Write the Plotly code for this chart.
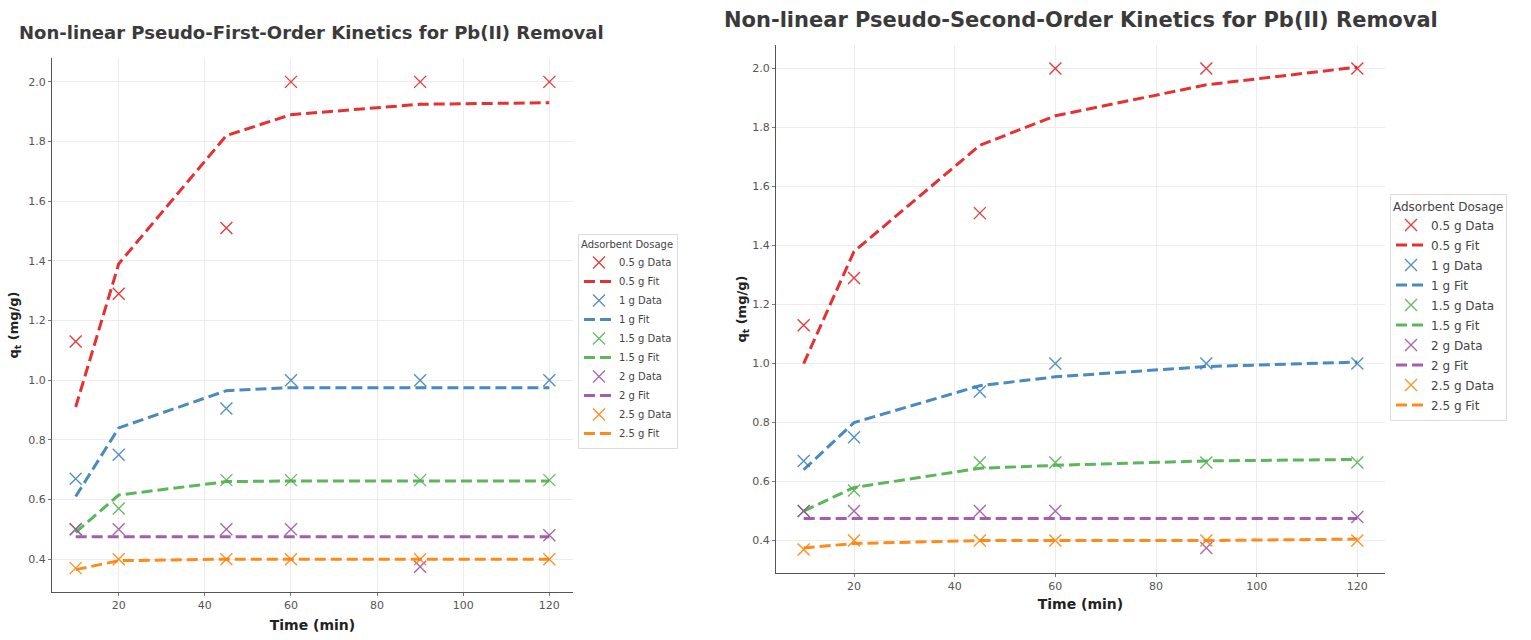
import plotly.graph_objects as go

time_min = [10, 20, 45, 60, 90, 120]
dosages = ["0.5 g", "1 g", "1.5 g", "2 g", "2.5 g"]
colors = ["#e41a1c", "#377eb8", "#4daf4a", "#984ea3", "#ff7f00"]

qt_data = {
    "0.5 g": [1.13, 1.29, 1.51, 2.00, 2.00, 2.00],
    "1 g":   [0.67, 0.75, 0.905, 1.00, 1.00, 1.00],
    "1.5 g": [0.50, 0.57, 0.665, 0.665, 0.665, 0.665],
    "2 g":   [0.50, 0.50, 0.50, 0.50, 0.375, 0.48],
    "2.5 g": [0.37, 0.40, 0.40, 0.40, 0.40, 0.40],
}

pfo_fit = {
    "0.5 g": [0.91, 1.39, 1.82, 1.89, 1.925, 1.93],
    "1 g":   [0.61, 0.84, 0.965, 0.975, 0.975, 0.975],
    "1.5 g": [0.49, 0.615, 0.66, 0.662, 0.662, 0.662],
    "2 g":   [0.475, 0.475, 0.475, 0.475, 0.475, 0.475],
    "2.5 g": [0.365, 0.395, 0.40, 0.40, 0.40, 0.40],
}

pso_fit = {
    "0.5 g": [1.00, 1.38, 1.74, 1.84, 1.945, 2.005],
    "1 g":   [0.64, 0.80, 0.925, 0.955, 0.99, 1.005],
    "1.5 g": [0.50, 0.58, 0.645, 0.655, 0.67, 0.675],
    "2 g":   [0.475, 0.475, 0.475, 0.475, 0.475, 0.475],
    "2.5 g": [0.375, 0.39, 0.40, 0.40, 0.40, 0.405],
}

x_ticks = [20, 40, 60, 80, 100, 120]
y_ticks = [0.4, 0.6, 0.8, 1.0, 1.2, 1.4, 1.6, 1.8, 2.0]

W, H = 1531, 640
fig = go.Figure()

panels = [
    ("x", "y", "legend", pfo_fit, "pfo"),
    ("x2", "y2", "legend2", pso_fit, "pso"),
]
for xa, ya, lg, fits, tag in panels:
    for d, c in zip(dosages, colors):
        fig.add_trace(go.Scatter(
            x=time_min, y=qt_data[d], mode="markers", name=f"{d} Data",
            xaxis=xa, yaxis=ya, legend=lg, legendgroup=f"{tag}-{d}-data",
            marker=dict(symbol="x-thin-open", size=12, color=c, opacity=0.85,
                        line=dict(width=1.4, color=c)),
        ))
        fig.add_trace(go.Scatter(
            x=time_min, y=fits[d], mode="lines", name=f"{d} Fit",
            xaxis=xa, yaxis=ya, legend=lg, legendgroup=f"{tag}-{d}-fit",
            line=dict(color=c, width=3, dash="11px,5px"),
            opacity=0.9,
        ))

def px_x(a, b):
    return [a / W, b / W]

def px_y(top, bottom):
    return [1 - bottom / H, 1 - top / H]

tickfont = dict(family="DejaVu Sans", size=11, color="#555555")
titlefont_axis = dict(family="DejaVu Sans", size=14, color="#222222")

common_x = dict(range=[4.5, 125.5], tickvals=x_ticks, showgrid=True, gridcolor="#ececec",
                gridwidth=1, zeroline=False, showline=True, linecolor="#555555", linewidth=1,
                ticks="outside", ticklen=3, tickcolor="#777777", tickfont=tickfont)
common_y = dict(range=[0.29, 2.08], tickvals=y_ticks, tickformat=".1f", showgrid=True,
                gridcolor="#ececec", gridwidth=1, zeroline=False, showline=True,
                linecolor="#555555", linewidth=1, ticks="outside", ticklen=3,
                tickcolor="#777777", tickfont=tickfont)

fig.update_layout(
    width=W, height=H,
    margin=dict(l=0, r=0, t=0, b=0),
    paper_bgcolor="white", plot_bgcolor="white",
    font=dict(family="DejaVu Sans", color="#333333"),
    xaxis=dict(common_x, domain=px_x(52, 573), anchor="y",
               title=dict(text="<b>Time (min)</b>", font=titlefont_axis, standoff=8)),
    yaxis=dict(common_y, domain=px_y(58, 592), anchor="x",
               title=dict(text="<b>q<sub>t</sub> (mg/g)</b>", font=dict(titlefont_axis, size=13), standoff=6)),
    xaxis2=dict(common_x, domain=px_x(776, 1385), anchor="y2",
                title=dict(text="<b>Time (min)</b>", font=titlefont_axis, standoff=6)),
    yaxis2=dict(common_y, domain=px_y(45, 573), anchor="x2",
                title=dict(text="<b>q<sub>t</sub> (mg/g)</b>", font=dict(titlefont_axis, size=13), standoff=2)),
    legend=dict(
        x=578 / W, y=1 - 234 / H, xanchor="left", yanchor="top",
        bgcolor="rgba(255,255,255,0.9)", bordercolor="#dddddd", borderwidth=1,
        font=dict(family="DejaVu Sans", size=10, color="#444444"),
        title=dict(text="Adsorbent Dosage", font=dict(family="DejaVu Sans", size=10, color="#444444")),
        tracegroupgap=0, itemwidth=30,
    ),
    legend2=dict(
        x=1390 / W, y=1 - 194 / H, xanchor="left", yanchor="top",
        bgcolor="rgba(255,255,255,0.9)", bordercolor="#dddddd", borderwidth=1,
        font=dict(family="DejaVu Sans", size=12, color="#444444"),
        title=dict(text="Adsorbent Dosage", font=dict(family="DejaVu Sans", size=12, color="#444444")),
        tracegroupgap=1, itemwidth=30,
    ),
    annotations=[
        dict(text="<b>Non-linear Pseudo-First-Order Kinetics for Pb(II) Removal</b>",
             xref="paper", yref="paper", x=17 / W, y=1 - 33 / H, xanchor="left", yanchor="middle",
             showarrow=False, font=dict(family="DejaVu Sans", size=18, color="#3a3a3a")),
        dict(text="<b>Non-linear Pseudo-Second-Order Kinetics for Pb(II) Removal</b>",
             xref="paper", yref="paper", x=722 / W, y=1 - 20 / H, xanchor="left", yanchor="middle",
             showarrow=False, font=dict(family="DejaVu Sans", size=21, color="#3a3a3a")),
    ],
)

fig.write_html("out.html")
